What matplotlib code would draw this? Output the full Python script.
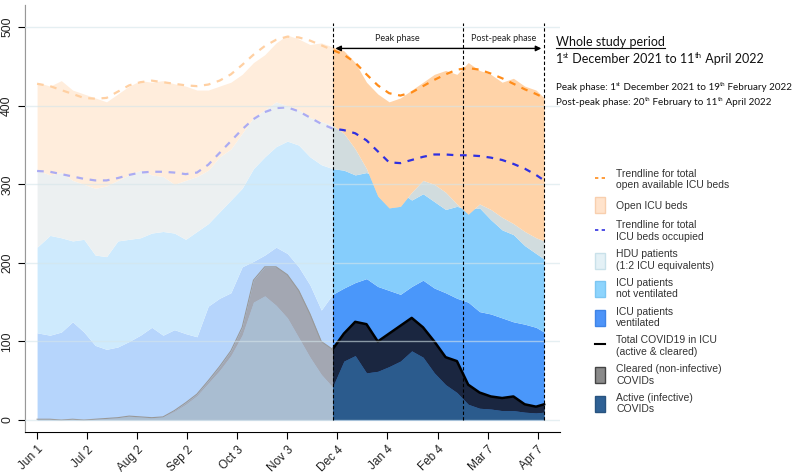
import numpy as np
import matplotlib
matplotlib.use("Agg")
import matplotlib.pyplot as plt
from matplotlib.lines import Line2D
from matplotlib.patches import Patch

plt.rcParams['font.family'] = ['Liberation Sans', 'DejaVu Sans']

# days since 1 June 2021 (Dec 1 = 183, Feb 20 = 264, Apr 11 = 314)
days = np.r_[0, np.arange(8, 184, 7), np.arange(190, 314, 7), 314]

# cumulative stack tops (beds)
vent_top = [111, 108, 112, 125, 112, 95, 90, 93, 100, 108, 118, 108, 115, 110, 106, 145,
            155, 162, 195, 202, 210, 220, 212, 195, 172, 140, 160,
            168, 175, 180, 170, 165, 160, 170, 178, 168, 162, 155, 150, 138, 135, 130,
            125, 122, 118, 112]
notvent_top = [220, 235, 232, 228, 230, 210, 208, 228, 230, 232, 238, 240, 238, 230, 240, 250,
               265, 280, 295, 320, 335, 348, 355, 350, 335, 325, 320,
               318, 312, 315, 308, 300, 290, 280, 288, 278, 268, 272, 268, 270, 255, 242,
               236, 222, 212, 205]
hdu_top = [318, 312, 315, 305, 300, 295, 298, 305, 312, 318, 312, 310, 300, 305, 310, 318,
           335, 345, 365, 385, 395, 405, 400, 395, 385, 380, 375,
           365, 345, 320, 285, 270, 272, 290, 305, 300, 290, 275, 262, 275, 268, 258,
           250, 240, 232, 228]
open_top = [430, 425, 432, 420, 415, 410, 405, 415, 425, 432, 430, 432, 428, 425, 420, 420,
            425, 430, 440, 455, 465, 480, 490, 485, 478, 480, 475,
            470, 455, 430, 415, 405, 410, 420, 430, 440, 445, 440, 455, 445, 440, 430,
            435, 425, 420, 410]

# trendlines
trend_open = [428, 425, 420, 415, 410, 409, 410, 418, 426, 430, 432, 430, 428, 426, 425, 427,
              432, 440, 452, 465, 476, 484, 488, 487, 483, 477, 471,
              465, 455, 440, 426, 416, 413, 417, 425, 433, 440, 446, 448, 446, 441, 435,
              428, 421, 415, 410]
trend_occ = [317, 316, 313, 310, 307, 305, 305, 308, 312, 315, 316, 316, 315, 313, 315, 325,
             340, 355, 370, 383, 392, 397, 398, 393, 385, 377, 371,
             369, 365, 356, 342, 328, 327, 331, 335, 338, 338, 337, 337, 336, 334, 331,
             326, 320, 312, 305]

# COVID patients in ICU
covid_total = [1, 1, 0, 1, 0, 1, 2, 3, 5, 4, 3, 4, 12, 22, 33, 50,
               68, 88, 118, 178, 195, 195, 185, 165, 135, 100, 90,
               110, 125, 122, 100, 110, 120, 130, 118, 100, 80, 75, 45, 35, 30, 28,
               30, 20, 17, 20]
covid_active = [1, 1, 0, 1, 0, 1, 2, 3, 5, 4, 3, 4, 11, 20, 31, 47,
                63, 82, 108, 150, 158, 146, 130, 105, 80, 58, 42,
                75, 82, 60, 62, 68, 75, 88, 80, 60, 45, 35, 20, 15, 14, 12,
                12, 10, 9, 10]

tick_days = [0, 31, 62, 93, 124, 155, 186, 217, 248, 279, 310]
tick_labels = ['Jun 1', 'Jul 2', 'Aug 2', 'Sep 2', 'Oct 3', 'Nov 3', 'Dec 4', 'Jan 4',
               'Feb 4', 'Mar 7', 'Apr 7']
phase_days = [183, 264, 314]

fig = plt.figure(figsize=(7.93, 4.74), dpi=100)
ax = fig.add_axes([0.0315, 0.089, 0.675, 0.9])

zeros = np.zeros(len(days))
ax.fill_between(days, zeros, vent_top, color='#4a97fa', lw=0, zorder=1)
ax.fill_between(days, vent_top, notvent_top, color='#85cdfc', lw=0, zorder=1)
ax.fill_between(days, notvent_top, hdu_top, color='#d1dcde', lw=0, zorder=1)
ax.fill_between(days, hdu_top, open_top, color='#ffd3a8', lw=0, zorder=1)
ax.plot(days, trend_open, color='#ff8c1a', ls=(0, (3, 3)), lw=1.6, zorder=2)
ax.plot(days, trend_occ, color='#3030e0', ls=(0, (3, 3)), lw=1.6, zorder=2)

ax.fill_between(days, zeros, covid_active, color='#2b5b8d', lw=0, zorder=3)
ax.fill_between(days, covid_active, covid_total, color='#1a2640', lw=0, zorder=3)
pre = days <= 183
post = days >= 183
ax.plot(days[pre], np.array(covid_total)[pre], color='black', lw=0.8, zorder=4)
ax.plot(days[post], np.array(covid_total)[post], color='black', lw=1.8, zorder=4)

# fade the pre-study period
ax.axvspan(-10, 183, color='white', alpha=0.6, lw=0, zorder=5)

for yv in range(0, 501, 100):
    ax.axhline(yv, color='#d5e5ea', lw=1, alpha=0.6, zorder=6)

ax.vlines(phase_days, 0, 505, colors='black', linestyles=(0, (3, 2)), lw=0.8, zorder=7)
ax.annotate('', xy=(183, 473), xytext=(314, 473),
            arrowprops=dict(arrowstyle='<|-|>', color='black', lw=1, mutation_scale=8),
            zorder=8)
ax.text(223, 485, 'Peak phase', fontsize=6.5, family='Lato', ha='center', va='center',
        color='#222222')
ax.text(289, 485, 'Post-peak phase', fontsize=6.5, family='Lato', ha='center', va='center',
        color='#222222')

ax.set_xlim(-7.5, 324)
ax.set_ylim(-15, 528)
ax.set_xticks(tick_days)
ax.set_xticklabels(tick_labels, rotation=45, ha='right', rotation_mode='anchor',
                   fontsize=8.5, color='#222222')
ax.set_yticks(range(0, 501, 100))
ax.set_yticklabels([str(v) for v in range(0, 501, 100)], rotation=90, va='center',
                   fontsize=8.8, color='#222222')
ax.tick_params(length=5, width=0.8)
ax.spines['top'].set_visible(False)
ax.spines['right'].set_visible(False)


# text with superscripts, drawn piece by piece
def sup_text(x, y, parts, size):
    renderer = fig.canvas.get_renderer()
    for s, sup in parts:
        if sup:
            t = fig.text(x, y + size * 0.38 / 72 / 4.74, s, fontsize=size * 0.62,
                         family='Lato', color='#111111')
        else:
            t = fig.text(x, y, s, fontsize=size, family='Lato', color='#111111')
        bb = t.get_window_extent(renderer).transformed(fig.transFigure.inverted())
        x = bb.x1


t = fig.text(0.701, 0.902, 'Whole study period', fontsize=9, family='Lato', color='#111111')
fig.canvas.draw()
bb = t.get_window_extent().transformed(fig.transFigure.inverted())
fig.add_artist(Line2D([bb.x0, bb.x1], [bb.y0 + 0.001, bb.y0 + 0.001], color='#111111', lw=0.8))

sup_text(0.701, 0.868, [('1', 0), ('st', 1), (' December 2021 to 11', 0), ('th', 1),
                        (' April 2022', 0)], 9)
sup_text(0.701, 0.810, [('Peak phase: 1', 0), ('st', 1), (' December 2021 to 19', 0),
                        ('th', 1), (' February 2022', 0)], 7.1)
sup_text(0.701, 0.778, [('Post-peak phase: 20', 0), ('th', 1), (' February to 11', 0),
                        ('th', 1), (' April 2022', 0)], 7.1)

handles = [
    Line2D([], [], color='#ff8c1a', ls=(0, (2, 2)), lw=1.2),
    Patch(facecolor='#ffe3cc', edgecolor='#f8cfae'),
    Line2D([], [], color='#3030e0', ls=(0, (2, 2)), lw=1.2),
    Patch(facecolor='#e4f1f6', edgecolor='#c9e1ea'),
    Patch(facecolor='#8dd4fd', edgecolor='#7cc6f2'),
    Patch(facecolor='#4d94f9', edgecolor='#3f84e6'),
    Line2D([], [], color='black', lw=1.5),
    Patch(facecolor='#8a8a8a', edgecolor='#444444'),
    Patch(facecolor='#2f6195', edgecolor='#28537f'),
]
labels = [
    'Trendline for total\nopen available ICU beds',
    'Open ICU beds',
    'Trendline for total\nICU beds occupied',
    'HDU patients\n(1:2 ICU equivalents)',
    'ICU patients\nnot ventilated',
    'ICU patients\nventilated',
    'Total COVID19 in ICU\n(active & cleared)',
    'Cleared (non-infective)\nCOVIDs',
    'Active (infective)\nCOVIDs',
]
fig.legend(handles, labels, loc='upper left', bbox_to_anchor=(0.739, 0.664),
           frameon=False, fontsize=7.5, handlelength=0.9, handleheight=2.0,
           handletextpad=1.1, labelspacing=0.68, labelcolor='#333333')

fig.savefig('out.png', dpi=100)
